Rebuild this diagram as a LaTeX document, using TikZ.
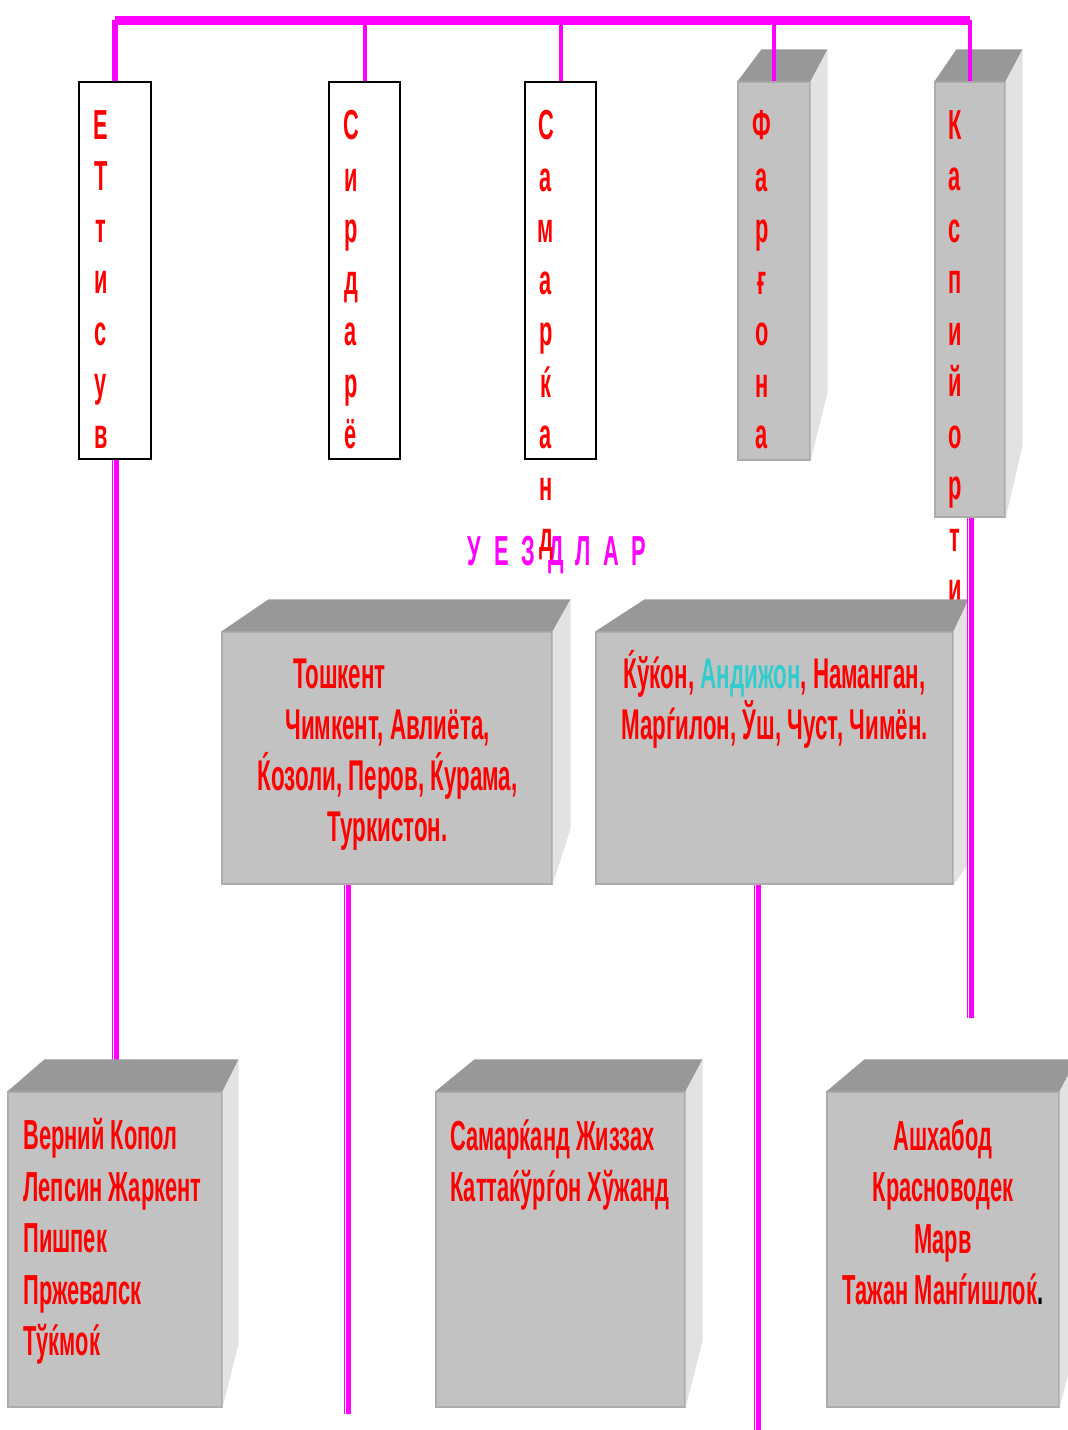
\documentclass[tikz,border=0pt]{standalone}
\usepackage{fontspec}
\newfontfamily\uzfont{Liberation Sans}[FakeStretch=0.52]
\usetikzlibrary{fit}
\definecolor{uzmagenta}{RGB}{255,0,255}
\definecolor{frontgray}{RGB}{194,194,194}
\definecolor{topgray}{RGB}{152,152,152}
\definecolor{sidegray}{RGB}{226,226,226}
\definecolor{edgegray}{RGB}{172,172,172}
\definecolor{andcyan}{RGB}{51,204,204}
\tikzset{
  hdr/.style={draw=black, line width=.8pt, fill=white, inner sep=0pt},
  slab/.style={fill=frontgray, draw=edgegray, line width=.6pt, inner sep=0pt},
  bus/.style={draw=uzmagenta, line width=4.5pt},
  drop/.style={draw=uzmagenta, line width=2pt},
  feed/.style={draw=uzmagenta, line width=3.5pt, postaction={draw=white, line width=.6pt, transform canvas={xshift=-.6pt}}},
  vword/.style={text=red, align=center, anchor=north, inner sep=0pt, font=\uzfont\bfseries\fontsize{21}{25.75}\selectfont},
  uezd/.style={text=uzmagenta, anchor=base, inner sep=0pt, font=\uzfont\bfseries\fontsize{21}{25}\selectfont},
  cityC/.style={text=red, align=center, anchor=north, inner sep=0pt, font=\uzfont\bfseries\fontsize{21.5}{25.5}\selectfont},
  cityL/.style={text=red, align=left, anchor=north west, inner sep=0pt, font=\uzfont\bfseries\fontsize{21}{25.75}\selectfont},
  cityB/.style={cityL, align=center, anchor=north}
}
\begin{document}
\begin{tikzpicture}[x=.5pt, y=-.5pt, line cap=butt]
	% 3D faces: #1 node, #2/#3 top shift of left/right corner, #4 rise of side bottom
	\def\prism#1#2#3#4{
		\fill[topgray] (#1.north west) -- ([shift={(#2,-32)}]#1.north west) -- ([shift={(#3,-32)}]#1.north east) -- (#1.north east) -- cycle;
		\fill[sidegray] (#1.north east) -- ([shift={(#3,-32)}]#1.north east) -- ([shift={(#3,#4)}]#1.south east) -- (#1.south east) -- cycle;}
	\useasboundingbox (0,0) rectangle (1068,1430);
	\clip (0,0) rectangle (1068,1430);
	% oblast headers
	\node[hdr, fit={(79,82)(151,459)}] (ettisuv) {};
	\node[hdr, fit={(329,82)(400,459)}] (sirdaryo) {};
	\node[hdr, fit={(525,82)(596,459)}] (samarqand) {};
	\node[slab, fit={(738,82)(810,460)}] (fargona) {};
	\node[slab, fit={(935,82)(1005,517)}] (kaspiy) {};
	\prism{fargona}{24}{17}{-68}
	\prism{kaspiy}{22}{17}{-72}
	% bus
	\coordinate (busL) at (115,20);
	\coordinate (busR) at (970,20);
	\draw[bus] (busL) -- (busR);
	\draw[drop, line width=2.75pt] (ettisuv.north) -- (ettisuv.north |- busL);
	\draw[drop, line width=2.25pt] (kaspiy.north) -- (kaspiy.north |- busR);
	\foreach \n in {sirdaryo, samarqand, fargona} \draw[drop] (\n.north) -- (\n.north |- busL);
	% title
	\foreach \l [count=\i from 0] in {У,Е,З,Д,Л,А,Р} \node[uezd] (uezd\i) at ({474+27.4*\i},565) {\l};
	% vertical names
	\node[vword] (ettisuvT) at (101,110) {Е\\Т\\т\\и\\с\\у\\в};
	\node[vword] (sirdaryoT) at (351,110) {С\\и\\р\\д\\а\\р\\ё};
	\node[vword] (samarqandT) at (546,110) {С\\а\\м\\а\\р\\ќ\\а\\н\\д};
	\node[vword] (fargonaT) at (762,110) {Ф\\а\\р\\ғ\\о\\н\\а};
	\node[vword] (kaspiyT) at (955,110) {К\\а\\с\\п\\и\\й\\о\\р\\т\\и};
	% feeders
	\coordinate (ettEnd) at (115,1065);
	\coordinate (sirEnd) at (347,1414);
	\coordinate (ferEnd) at (757,1430);
	\coordinate (kasEnd) at (970,1018);
	\draw[feed] (ettisuv.south) -- (ettEnd);
	% uezd boxes, middle row
	\node[slab, fit={(222,632)(552,884)}] (toshkent) {};
	\node[slab, fit={(596,632)(953,884)}] (qoqon) {};
	\prism{toshkent}{47}{18}{-56}
	\prism{qoqon}{49}{15}{-21}
	\draw[feed] (sirEnd |- toshkent.south) -- (sirEnd);
	\draw[feed] (ferEnd |- qoqon.south) -- (ferEnd);
	\draw[feed] (kaspiy.south) -- (kasEnd);
	\node[cityC] (toshkentT) at (387.5,659) {Тошкент\hspace*{48pt}\\Чимкент, Авлиёта,\\Ќозоли, Перов, Ќурама,\\Туркистон.};
	\node[cityC] (qoqonT) at (774.5,650) {Ќўќон, \textcolor{andcyan}{Андижон}, Наманган,\\Марѓилон, Ўш, Чуст, Чимён.};
	% uezd boxes, bottom row
	\node[slab, fit={(8,1092)(222,1407)}] (vernyi) {};
	\node[slab, fit={(436,1092)(685,1407)}] (samBox) {};
	\node[slab, fit={(827,1092)(1059,1407)}] (ashBox) {};
	\prism{vernyi}{37}{16}{-64}
	\prism{samBox}{39}{17}{-67}
	\prism{ashBox}{38}{17}{-65}
	\node[cityL] (vernyiT) at (23,1118) {Верний Копол\\Лепсин Жаркент\\Пишпек\\Пржевалск\\Тўќмоќ};
	\node[cityL] (samT) at (450,1119) {Самарќанд Жиззах\\Каттаќўрѓон Хўжанд};
	\node[cityB] (ashT) at (943,1119) {Ашхабод\\Красноводек\\Марв\\Тажан Манѓишлоќ\textcolor{black}{.}};
\end{tikzpicture}
\end{document}
